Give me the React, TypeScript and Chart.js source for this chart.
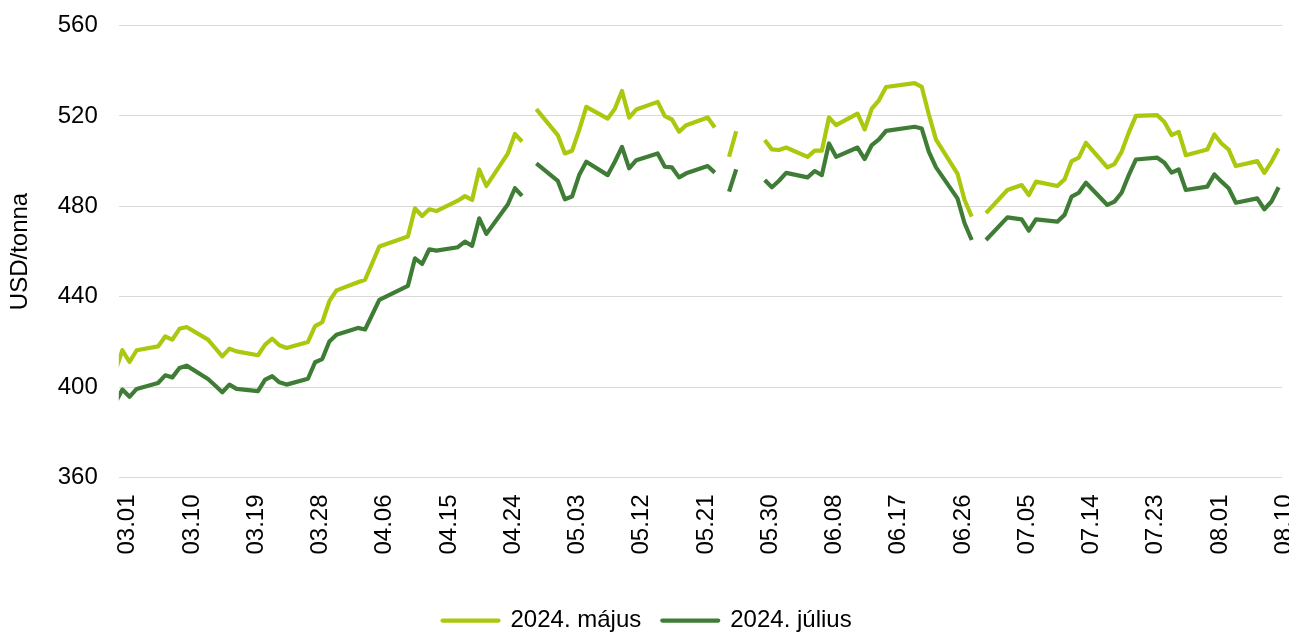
import React, { useEffect, useRef } from 'react';
import { Chart, registerables } from 'chart.js';

Chart.register(...registerables);

const YEAR = 2023;
const seriesNames = ['2024. május', '2024. július'];
const yAxisTitle = 'USD/tonna';

const dates = [
  '02.28', '03.01', '03.02', '03.03', '03.06', '03.07', '03.08', '03.09', '03.10',
  '03.13', '03.14', '03.15', '03.16', '03.17', '03.20', '03.21', '03.22', '03.23', '03.24',
  '03.27', '03.28', '03.29', '03.30', '03.31', '04.03', '04.04', '04.05', '04.06',
  '04.10', '04.11', '04.12', '04.13', '04.14', '04.17', '04.18', '04.19', '04.20', '04.21',
  '04.24', '04.25', '04.26', '04.27', '04.28', '05.01', '05.02', '05.03', '05.04', '05.05',
  '05.08', '05.09', '05.10', '05.11', '05.12', '05.15', '05.16', '05.17', '05.18', '05.19',
  '05.22', '05.23', '05.24', '05.25', '05.26', '05.29', '05.30', '05.31', '06.01', '06.02',
  '06.05', '06.06', '06.07', '06.08', '06.09', '06.12', '06.13', '06.14', '06.15', '06.16',
  '06.20', '06.21', '06.22', '06.23', '06.26', '06.27', '06.28', '06.29', '06.30',
  '07.03', '07.05', '07.06', '07.07', '07.10', '07.11', '07.12', '07.13', '07.14',
  '07.17', '07.18', '07.19', '07.20', '07.21', '07.24', '07.25', '07.26', '07.27', '07.28',
  '07.31', '08.01', '08.02', '08.03', '08.04', '08.07', '08.08', '08.09', '08.10',
];

const mayValues = [
  407.0, 416.3, 411.1, 416.3, 418.0, 422.4, 421.0, 425.8, 426.6,
  421.0, 417.3, 413.6, 417.0, 415.8, 414.1, 418.8, 421.4, 418.5, 417.3,
  420.0, 427.0, 428.7, 438.0, 442.8, 446.4, 447.5, 454.8, 462.2,
  466.6, 479.1, 475.7, 478.7, 477.9, 482.5, 484.5, 482.8, 496.3, 489.0,
  503.3, 512.0, 508.7, null, 523.0, 511.5, 503.4, 504.6, 513.7, 524.0,
  518.8, 523.2, 531.0, 519.3, 522.8, 526.2, 519.9, 518.4, 513.0, 515.9,
  519.3, 514.9, null, 501.9, 513.2, null, 509.3, 505.2, 504.9, 506.0,
  501.9, 504.6, 504.6, 519.3, 515.9, 521.0, 514.0, 523.2, 526.9, 532.8,
  534.5, 532.8, 520.5, 509.5, 494.5, 482.8, 475.4, null, 477.0,
  487.2, 489.4, 485.0, 490.9, 489.0, 491.9, 500.0, 501.5, 508.1,
  497.2, 498.7, 504.1, 512.6, 520.0, 520.3, 517.3, 511.5, 512.9, 502.6,
  505.1, 511.8, 507.8, 505.1, 497.8, 500.0, 494.8, 499.7, 505.6,
];

const julyValues = [
  393.0, 398.9, 395.7, 399.2, 401.8, 405.2, 404.3, 408.5, 409.5,
  403.6, 400.7, 397.7, 401.1, 399.2, 398.2, 403.3, 404.8, 402.1, 401.1,
  403.7, 411.0, 412.4, 420.2, 423.2, 426.2, 425.5, 432.0, 438.6,
  444.8, 457.0, 454.5, 461.0, 460.4, 461.9, 464.4, 462.5, 474.7, 467.8,
  480.8, 488.0, 484.6, null, 499.0, 491.3, 483.1, 484.3, 493.8, 499.7,
  493.8, 499.7, 506.3, 496.8, 500.4, 503.4, 497.5, 497.2, 492.8, 494.6,
  497.8, 494.9, null, 486.5, 496.3, null, 491.6, 488.4, 491.3, 494.8,
  492.8, 495.6, 493.8, 507.8, 501.9, 506.0, 500.9, 507.1, 509.6, 513.4,
  515.2, 514.4, 504.1, 497.2, 483.5, 472.5, 465.1, null, 465.1,
  475.1, 474.2, 469.2, 474.2, 473.2, 476.2, 484.3, 486.0, 490.4,
  480.6, 482.1, 486.0, 493.8, 500.7, 501.5, 499.3, 494.9, 496.3, 487.2,
  488.7, 494.1, 490.9, 488.0, 481.6, 483.5, 478.7, 482.1, 488.4,
];

const tickLabels = [
  '03.01', '03.10', '03.19', '03.28', '04.06', '04.15', '04.24', '05.03', '05.12', '05.21',
  '05.30', '06.08', '06.17', '06.26', '07.05', '07.14', '07.23', '08.01', '08.10',
];

const yMin = 360;
const yMax = 560;
const yStep = 40;

const colorMay = '#A9C80E';
const colorJuly = '#3F7D36';

function dayIndex(label: string): number {
  const [m, d] = label.split('.').map(Number);
  return Math.round((Date.UTC(YEAR, m - 1, d) - Date.UTC(YEAR, 2, 1)) / 86400000);
}

const tickValues = tickLabels.map(dayIndex);
const firstDay = dayIndex(tickLabels[0]);
const lastDay = dayIndex(tickLabels[tickLabels.length - 1]);

function toPoints(values: (number | null)[]) {
  return dates.map((d, i) => ({ x: dayIndex(d), y: values[i] }));
}

const font = { family: '"Liberation Sans", Arial, sans-serif', size: 24 };

export default function App() {
  const ref = useRef<HTMLCanvasElement>(null);

  useEffect(() => {
    document.body.style.margin = '0';
    const canvas = ref.current;
    if (!canvas) return;
    const chart = new Chart(canvas, {
      type: 'line',
      data: {
        datasets: [
          {
            label: seriesNames[0],
            data: toPoints(mayValues),
            borderColor: colorMay,
            backgroundColor: colorMay,
            borderWidth: 4.2,
            borderJoinStyle: 'round',
            borderCapStyle: 'butt',
            pointRadius: 0,
            tension: 0,
            spanGaps: false,
            clip: { left: 0, top: false, right: false, bottom: false },
          },
          {
            label: seriesNames[1],
            data: toPoints(julyValues),
            borderColor: colorJuly,
            backgroundColor: colorJuly,
            borderWidth: 4.2,
            borderJoinStyle: 'round',
            borderCapStyle: 'butt',
            pointRadius: 0,
            tension: 0,
            spanGaps: false,
            clip: { left: 0, top: false, right: false, bottom: false },
          },
        ],
      },
      options: {
        animation: false,
        responsive: false,
        events: [],
        layout: { padding: { left: 12, right: 6.8, top: 25.5, bottom: -8.6 } },
        plugins: {
          legend: {
            position: 'bottom',
            align: 'center',
            labels: { font, color: '#000', boxWidth: 56, boxHeight: 0, padding: 21 },
          },
          tooltip: { enabled: false },
        },
        scales: {
          x: {
            type: 'linear',
            min: firstDay - 0.5,
            max: lastDay + 0.5,
            grid: { display: false, drawTicks: false },
            border: { display: false },
            afterBuildTicks: (axis: any) => {
              axis.ticks = tickValues.map((v) => ({ value: v }));
            },
            afterFit: (axis: any) => {
              axis.height = 110.1;
              axis.paddingLeft = 0;
              axis.paddingRight = 0;
            },
            ticks: {
              autoSkip: false,
              minRotation: 90,
              maxRotation: 90,
              padding: 17,
              labelOffset: 5.5,
              font,
              color: '#000',
              callback: (v: any) => {
                const k = tickValues.indexOf(Number(v));
                return k >= 0 ? tickLabels[k] : '';
              },
            },
          },
          y: {
            min: yMin,
            max: yMax,
            ticks: { stepSize: yStep, padding: 21, font, color: '#000' },
            grid: { color: '#d9d9d9', lineWidth: 1, drawTicks: false },
            border: { display: false },
            title: {
              display: true,
              text: yAxisTitle,
              font,
              color: '#000',
              padding: { top: -6.4, bottom: 0 },
            },
            afterFit: (axis: any) => {
              axis.width = 106.8;
              axis.paddingTop = 0;
              axis.paddingBottom = 0;
            },
          },
        },
      },
    } as any);
    return () => chart.destroy();
  }, []);

  return (
    <div style={{ width: 1289, height: 634 }}>
      <canvas ref={ref} width={1289} height={634} style={{ display: 'block' }} />
    </div>
  );
}
